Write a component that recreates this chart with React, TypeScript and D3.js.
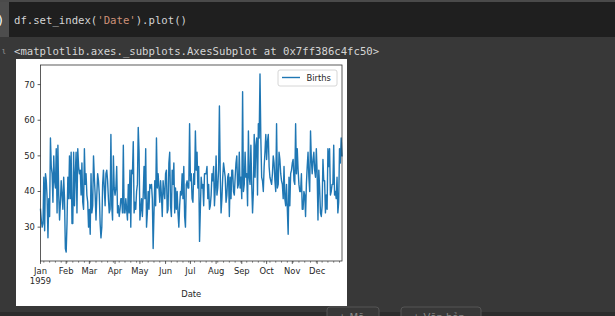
import React from "react";
import * as d3 from "d3";

const births: number[] = [
  35, 32, 30, 31, 44, 29, 45, 43, 38, 27,
  38, 33, 55, 47, 45, 37, 50, 43, 41, 52,
  34, 53, 39, 32, 37, 43, 39, 35, 44, 38,
  24, 23, 31, 44, 38, 50, 38, 51, 31, 31,
  51, 36, 45, 51, 34, 52, 47, 45, 46, 39,
  48, 37, 35, 52, 42, 45, 39, 37, 30, 35,
  28, 45, 34, 36, 50, 44, 39, 32, 39, 45,
  43, 39, 31, 27, 30, 42, 46, 41, 36, 45,
  46, 43, 38, 34, 35, 56, 36, 32, 50, 41,
  39, 41, 47, 34, 36, 33, 35, 38, 38, 34,
  53, 34, 34, 38, 35, 32, 42, 34, 46, 30,
  46, 45, 54, 34, 37, 35, 40, 42, 58, 51,
  32, 35, 38, 33, 39, 47, 38, 52, 30, 34,
  40, 35, 42, 41, 42, 38, 24, 34, 43, 36,
  55, 41, 45, 41, 37, 43, 39, 33, 43, 40,
  38, 45, 46, 34, 35, 48, 51, 36, 33, 46,
  42, 48, 34, 41, 35, 40, 34, 30, 36, 40,
  39, 45, 38, 47, 33, 30, 42, 43, 41, 41,
  59, 43, 45, 38, 37, 45, 42, 57, 46, 51,
  41, 47, 26, 35, 44, 41, 42, 36, 45, 45,
  45, 47, 38, 42, 35, 36, 39, 45, 43, 47,
  36, 41, 50, 39, 41, 46, 64, 45, 34, 38,
  44, 48, 46, 44, 37, 39, 44, 45, 33, 44,
  38, 46, 46, 40, 39, 44, 48, 50, 41, 42,
  51, 41, 44, 38, 68, 40, 42, 51, 44, 45,
  36, 57, 44, 42, 53, 42, 34, 40, 56, 44,
  53, 55, 39, 59, 55, 73, 55, 44, 43, 40,
  47, 51, 56, 49, 54, 56, 47, 44, 43, 42,
  45, 50, 48, 43, 40, 59, 41, 42, 51, 49,
  45, 43, 42, 38, 47, 38, 36, 42, 35, 28,
  44, 36, 45, 46, 48, 49, 43, 42, 59, 45,
  52, 46, 42, 40, 40, 45, 35, 35, 40, 39,
  33, 42, 47, 51, 44, 40, 57, 49, 45, 49,
  51, 46, 44, 52, 45, 32, 46, 41, 34, 33,
  36, 49, 43, 43, 34, 39, 35, 52, 47, 52,
  39, 40, 42, 42, 53, 39, 40, 38, 44, 34,
  37, 52, 48, 55, 50,
];

const startDate = new Date(Date.UTC(1959, 0, 1));
const endDate = new Date(Date.UTC(1959, 11, 31));
const yTicks: number[] = [30, 40, 50, 60, 70];
const seriesName = "Births";
const xLabel = "Date";
const codeParts = ["df.set_index(", "'Date'", ").plot()"];
const outputText = "<matplotlib.axes._subplots.AxesSubplot at 0x7ff386c4fc50>";

export default function App() {
  const left = 40.5, right = 342, top = 65, bottom = 261;
  const dates = births.map((_, i) => d3.utcDay.offset(startDate, i));
  const x = d3.scaleUtc().domain([startDate, endDate]).range([left, right]);
  const y = d3.scaleLinear().domain([20.5, 75.5]).range([bottom, top]);
  const line = d3
    .line<number>()
    .x((_, i) => x(dates[i]))
    .y((d) => y(d));
  const months = d3.utcMonth.range(startDate, d3.utcDay.offset(endDate, 1));
  const mondays = d3.utcMonday
    .range(startDate, d3.utcDay.offset(endDate, 1))
    .filter((d) => d.getUTCDate() !== 1);
  const fmt = d3.utcFormat("%b");
  const sans = "'DejaVu Sans', sans-serif";
  const mono = "'DejaVu Sans Mono', monospace";
  const fs = 8.4;
  const tickColor = "#262626";

  return (
    <svg
      width={615}
      height={316}
      style={{ position: "absolute", left: 0, top: 0, display: "block" }}
    >
      <rect x={0} y={0} width={615} height={316} fill="#383838" />
      {/* code cell */}
      <rect x={0} y={0} width={615} height={2} fill="#4a4a4a" />
      <rect x={0} y={2} width={615} height={35} fill="#1f1f1f" />
      <rect x={0} y={2} width={9} height={35} fill="#4d4d4d" />
      <text x={-3} y={25} fontFamily={mono} fontSize={12} fill="#ffffff">)</text>
      <text x={14} y={24} fontFamily={mono} fontSize={10.65} fill="#d4d4d4">
        <tspan>{codeParts[0]}</tspan>
        <tspan fill="#ce9178">{codeParts[1]}</tspan>
        <tspan>{codeParts[2]}</tspan>
      </text>
      <text x={1} y={54} fontFamily={mono} fontSize={9} fill="#888">ι</text>
      <text x={14} y={55} fontFamily={mono} fontSize={10.65} fill="#d5d5d5">
        {outputText}
      </text>
      {/* bottom buttons */}
      <rect x={0} y={312} width={615} height={4} fill="#2c2c2c" />
      <rect x={327} y={307} width={52} height={14} rx={3} fill="#383838" stroke="#555" strokeWidth={1} />
      <rect x={401} y={307} width={80} height={14} rx={3} fill="#383838" stroke="#555" strokeWidth={1} />
      <text x={338} y={321} fontFamily={sans} fontSize={10} fill="#888">+ Mã</text>
      <text x={412} y={321} fontFamily={sans} fontSize={10} fill="#888">+ Văn bản</text>

      {/* figure */}
      <rect x={16} y={59} width={331} height={247} fill="#ffffff" />
      <path
        d={line(births) ?? ""}
        fill="none"
        stroke="#1f77b4"
        strokeWidth={1.4}
        strokeLinejoin="round"
        strokeLinecap="square"
      />
      {/* spines */}
      <rect
        x={left}
        y={top}
        width={right - left}
        height={bottom - top}
        fill="none"
        stroke="#333"
        strokeWidth={0.8}
      />
      {/* y ticks */}
      {yTicks.map((t) => (
        <g key={"y" + t}>
          <line x1={left - 2.9} x2={left} y1={y(t)} y2={y(t)} stroke="#333" strokeWidth={0.8} />
          <text
            x={left - 5.6}
            y={y(t)}
            dy="0.35em"
            textAnchor="end"
            fontFamily={sans}
            fontSize={fs}
            fill={tickColor}
          >
            {t}
          </text>
        </g>
      ))}
      {/* x minor ticks */}
      {mondays.map((d, i) => (
        <line
          key={"m" + i}
          x1={x(d)}
          x2={x(d)}
          y1={bottom}
          y2={bottom + 1.7}
          stroke="#333"
          strokeWidth={0.6}
        />
      ))}
      {/* x major ticks */}
      {months.map((d, i) => (
        <g key={"M" + i}>
          <line x1={x(d)} x2={x(d)} y1={bottom} y2={bottom + 2.9} stroke="#333" strokeWidth={0.8} />
          <text
            x={x(d)}
            y={bottom + 13.3}
            textAnchor="middle"
            fontFamily={sans}
            fontSize={fs}
            fill={tickColor}
          >
            {fmt(d)}
          </text>
          {i === 0 && (
            <text
              x={x(d)}
              y={bottom + 23.2}
              textAnchor="middle"
              fontFamily={sans}
              fontSize={fs}
              fill={tickColor}
            >
              {d3.utcFormat("%Y")(d)}
            </text>
          )}
        </g>
      ))}
      <text
        x={(left + right) / 2}
        y={297}
        textAnchor="middle"
        fontFamily={sans}
        fontSize={fs}
        fill={tickColor}
      >
        {xLabel}
      </text>
      {/* legend */}
      <rect
        x={278}
        y={70}
        width={59}
        height={16}
        rx={2}
        fill="#ffffff"
        fillOpacity={0.8}
        stroke="#cccccc"
        strokeWidth={0.8}
      />
      <line x1={282} x2={300} y1={77.5} y2={77.5} stroke="#1f77b4" strokeWidth={1.4} />
      <text x={306.5} y={80.5} fontFamily={sans} fontSize={fs} fill={tickColor}>
        {seriesName}
      </text>
    </svg>
  );
}
